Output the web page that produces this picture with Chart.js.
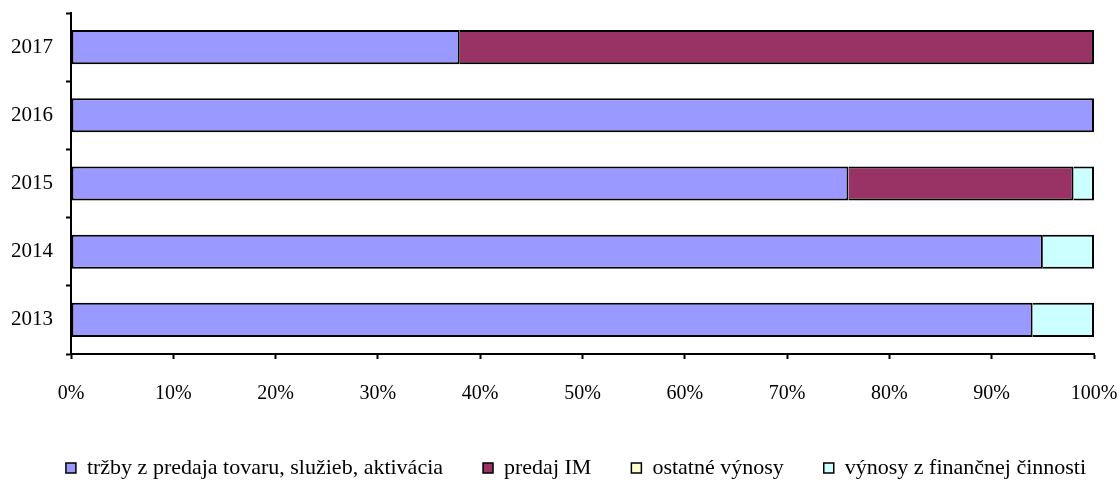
<!DOCTYPE html>
<html>
<head>
<meta charset="utf-8">
<script src="https://cdn.jsdelivr.net/npm/chart.js@4"></script>
<style>
  html, body { margin: 0; padding: 0; background: #fff; }
  #wrap { width: 1120px; height: 489px; }
</style>
</head>
<body>
<div id="wrap"><canvas id="barGraph"></canvas></div>
<script>
const years = ['2017', '2016', '2015', '2014', '2013'];
const trzby = [38, 100, 76, 95, 94];       // tržby z predaja tovaru, služieb, aktivácia
const predajIM = [62, 0, 22, 0, 0];        // predaj IM
const ostatne = [0, 0, 0, 0, 0];           // ostatné výnosy
const financne = [0, 0, 2, 5, 6];          // výnosy z finančnej činnosti
const xTicks = [0, 10, 20, 30, 40, 50, 60, 70, 80, 90, 100];

Chart.defaults.font.family = "'Liberation Serif', 'Times New Roman', serif";
Chart.defaults.font.size = 20;
Chart.defaults.color = '#000';

// nudge the legend row a bit to the right, like in the original
const legendShift = {
    id: 'legendShift',
    afterLayout(chart) {
        chart.legend.left += 16;
        chart.legend.right += 16;
    }
};

const ctx = document.getElementById('barGraph').getContext('2d');

const barGraph = new Chart(ctx, {
    type: 'bar',
    data: {
        labels: years,
        datasets: [{
            label: 'tržby z predaja tovaru, služieb, aktivácia',
            data: trzby,
            backgroundColor: '#9999FF',
            borderSkipped: false
        },
        {
            label: 'predaj IM',
            data: predajIM,
            backgroundColor: '#993366'
        },
        {
            label: 'ostatné výnosy',
            data: ostatne,
            backgroundColor: '#FFFFCC'
        },
        {
            label: 'výnosy z finančnej činnosti',
            data: financne,
            backgroundColor: '#CCFFFF'
        }]
    },
    plugins: [legendShift],
    options: {
        indexAxis: 'y',
        responsive: true,
        maintainAspectRatio: false,
        animation: false,
        layout: {
            padding: { top: 13, right: 0, bottom: 0, left: 0 }
        },
        datasets: {
            bar: {
                borderColor: '#000',
                borderWidth: 2,
                borderSkipped: 'start', // shared edge is drawn by the previous segment
                categoryPercentage: 1.0,
                barPercentage: 0.5
            }
        },
        plugins: {
            tooltip: { enabled: false },
            legend: {
                position: 'bottom',
                labels: {
                    boxWidth: 10,
                    boxHeight: 10,
                    padding: 40,
                    color: '#000',
                    font: { size: 22 },
                    generateLabels: chart => chart.data.datasets.map((ds, i) => ({
                        text: ds.label,
                        fillStyle: ds.backgroundColor,
                        strokeStyle: '#000',
                        lineWidth: 1.5,
                        datasetIndex: i
                    }))
                }
            }
        },
        scales: {
            x: {
                stacked: true,
                min: 0,
                max: 100,
                afterBuildTicks: scale => {
                    scale.ticks = xTicks.map(v => ({ value: v }));
                },
                afterFit: scale => {
                    scale.height = 63;
                    scale.paddingLeft = 0;
                    scale.paddingRight = 26;
                },
                border: { color: '#000', width: 2 },
                grid: {
                    drawOnChartArea: false,
                    tickLength: 5,
                    tickColor: '#000',
                    tickWidth: 2
                },
                ticks: {
                    padding: 23,
                    maxRotation: 0,
                    callback: v => v + '%'
                }
            },
            y: {
                stacked: true,
                afterFit: scale => {
                    scale.width = 71;
                    scale.paddingTop = 0;
                    scale.paddingBottom = 0;
                },
                border: { color: '#000', width: 2 },
                grid: {
                    drawOnChartArea: false,
                    tickLength: 5,
                    tickColor: '#000',
                    tickWidth: 2
                },
                ticks: {
                    padding: 13,
                    font: { size: 21 }
                }
            }
        }
    }
});
</script>
</body>
</html>
